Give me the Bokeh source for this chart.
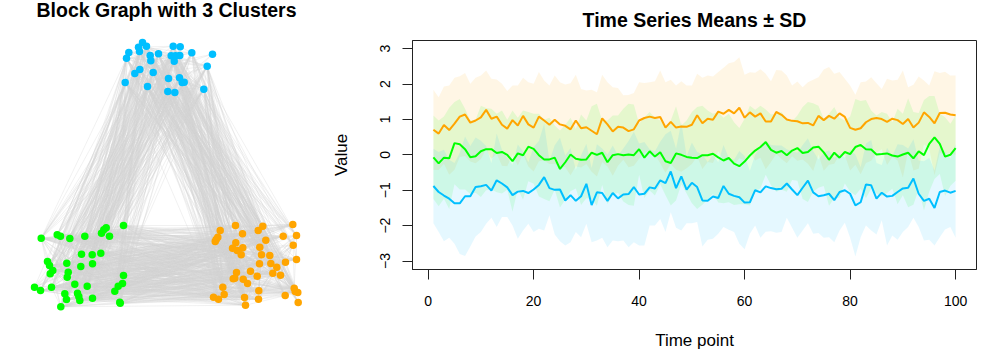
from bokeh.plotting import figure
from bokeh.layouts import row, column
from bokeh.models import Range1d, FixedTicker, Label
from bokeh.embed import file_html
from bokeh.resources import INLINE

time_points = list(range(1, 101))

orange_mean = [.71,.60,.84,.70,.88,1.08,1.14,.91,.97,1.06,1.27,1.02,1.08,.85,.74,.98,.83,1.10,.86,.77,
1.08,.97,.85,.99,.86,.82,.72,.97,.75,.78,.68,.58,1.03,.86,.66,.79,.77,.67,.72,.97,
1.04,1.08,1.04,1.07,.77,.93,.77,.80,.79,.85,1.12,.89,1.02,.99,1.22,1.16,1.27,1.17,1.33,1.05,
1.20,1.08,1.17,.94,.94,1.21,1.13,1.00,.96,.95,.89,.90,.83,1.10,.98,1.10,1.02,1.17,1.07,.76,
.71,.75,.92,1.01,1.04,1.01,.93,1.02,.98,.87,1.01,.77,.91,1.20,1.07,.89,1.18,1.19,1.14,1.12]
orange_upper = [1.84,1.63,1.93,1.96,2.18,2.22,2.31,2.01,2.18,2.24,2.38,2.15,2.13,2.01,1.80,1.96,1.96,2.18,2.05,2.01,
2.34,2.10,1.96,2.24,2.05,1.99,2.02,2.26,1.86,1.82,1.84,1.77,2.26,2.05,1.91,1.89,1.68,1.69,1.75,2.05,
2.03,2.05,2.08,2.38,2.05,2.12,1.96,2.08,1.96,1.96,2.29,2.18,2.24,2.21,2.34,2.46,2.59,2.62,2.76,2.26,
2.33,2.32,2.42,2.29,2.08,2.40,2.38,2.24,1.96,2.07,1.91,2.05,2.12,2.19,2.41,2.48,2.29,2.34,2.15,1.96,
1.70,2.05,2.07,2.19,2.02,1.86,2.15,2.10,2.12,2.38,1.91,1.98,2.21,2.10,1.96,2.36,2.31,2.35,2.24,2.24]
green_mean = [-.07,-.24,-.08,-.10,.33,.30,.16,-.07,-.04,.10,.16,.16,.05,.08,0,-.18,.04,-.01,.23,.17,
-.01,-.13,-.13,-.08,-.40,-.21,.01,-.11,-.14,-.13,.06,0,.06,-.21,-.01,.02,-.01,.01,-.01,.16,
-.08,.10,-.05,.07,-.18,-.23,.04,0,-.06,-.08,-.09,-.01,-.01,.03,-.07,-.16,-.09,-.25,-.32,-.19,
-.02,.12,.22,.36,.14,.06,.11,-.01,.12,.19,.05,.08,.21,.23,.07,-.14,.06,-.08,.08,.02,
.22,.28,.16,.15,.01,.02,.04,-.02,-.05,.01,.06,-.10,.10,-.01,.31,.49,.31,-.05,0,.19]
green_upper = [1.11,.97,1.08,1.33,1.49,1.58,1.30,.97,.99,1.39,1.32,1.30,1.16,1.25,.99,1.25,1.05,1.25,1.21,1.16,
1.16,.99,1.05,.83,.69,.85,1.05,.73,1.14,.97,1.37,1.44,.97,.97,1.11,1.11,1.30,1.44,1.42,.88,
1.06,1.21,1.05,.97,.78,.97,1.37,.83,.97,1.21,1.35,1.39,1.25,1.16,1.21,1.05,1.16,.92,.76,1.02,
1.39,1.27,1.39,1.28,1.14,1.16,1.21,1.02,.95,1.11,1.35,1.49,1.46,1.39,1.02,1.16,1.35,1.05,.97,1.08,
1.58,1.52,1.55,1.25,1.11,1.21,1.16,.92,1.30,1.16,1.60,1.21,1.18,1.55,1.66,1.66,1.16,1.06,.88,1.11]
blue_mean = [-.88,-1.05,-1.15,-1.24,-1.37,-1.37,-1.17,-1.17,-.91,-.89,-.85,-1.01,-.72,-.81,-.92,-1.14,-1.04,-1.02,-1.08,-.98,
-.85,-.63,-.94,-.99,-.98,-1.29,-1.14,-1.30,-1.17,-.82,-1.42,-1.06,-1.08,-1.30,-1.08,-1.23,-1.12,-1.11,-.91,-1.12,
-1.10,-.92,-.95,-.72,-.80,-.47,-.94,-.61,-.98,-.79,-.91,-1.29,-1.30,-1.18,-1.22,-.88,-1.10,-1.16,-1.20,-1.35,
-1.34,-1.00,-1.06,-.89,-.94,-.97,-.96,-.81,-.98,-1.14,-.93,-.73,-1.06,-1.17,-1.14,-1.10,-1.28,-1.05,-1.00,-1.10,
-1.43,-1.34,-.84,-.86,-1.24,-1.07,-1.18,-1.16,-1.05,-.95,-.93,-.67,-1.10,-1.30,-1.24,-1.50,-1.05,-1.01,-1.07,-1.02]
blue_lower = [-1.93,-2.18,-2.44,-2.34,-2.51,-2.80,-2.86,-2.59,-2.31,-2.18,-1.95,-1.78,-2.04,-1.76,-1.76,-2.00,-2.37,-2.14,-1.95,-2.18,
-2.09,-2.14,-1.71,-2.25,-2.44,-2.56,-2.47,-2.18,-2.33,-1.95,-2.47,-2.42,-2.34,-2.61,-2.42,-2.44,-2.42,-2.61,-2.47,-2.56,
-2.56,-2.00,-2.00,-1.81,-2.18,-1.62,-2.06,-2.14,-1.93,-1.93,-1.90,-2.59,-2.40,-2.37,-2.23,-2.04,-2.12,-2.18,-2.51,-2.67,
-2.23,-2.00,-2.34,-2.17,-2.16,-2.20,-2.18,-1.78,-2.06,-2.34,-2.14,-1.93,-2.23,-2.21,-2.34,-2.33,-2.47,-2.14,-1.92,-2.34,
-2.87,-2.33,-2.00,-2.14,-2.25,-1.85,-2.56,-2.28,-2.40,-2.18,-2.04,-1.78,-2.04,-2.42,-2.40,-2.56,-2.33,-2.11,-2.04,-2.34]

# Graph node layout
green_x = [123,105.7,103.3,101,109,84.3,69.3,60,56.7,40.7,81,91.7,100.3,66.3,92,80.3,47,49,52.3,49.7,67.7,66.7,123,74.3,86.7,122,117.7,114.3,34,40,51,64.3,66,77,78.3,79.3,92,119.3,119.7,60.3]
green_y = [225,227.3,229.3,232.7,235.7,235.7,238,235.7,234.3,237.7,253.7,254.3,252.7,262.7,263.3,266,261,265,270,273.3,271.7,276.7,275,283.7,285.7,283,285.7,290.7,286.7,290,286.7,293.3,299,292.7,296,300,297.7,301.7,302.7,306.3]
orange_x = [292.3,262.3,235,257.7,219.7,242,282.7,296,217.3,215.7,214.7,265.3,235.3,292.7,232,242.3,259.3,236.7,240.7,261,269.3,296,285,259,270.3,276.3,272.3,280,250,236,256.7,234.3,232.7,242.7,247,222.3,293.7,294.7,297.3,258.3,284.7,223.7,213,218,244,258,297.7,245]
orange_y = [224,225.7,225,230,230,233.3,235.7,235,236.7,239,241,239.7,242.3,244.7,247.7,247.3,246.7,250,254.3,254.3,255,259,261.7,263.3,263,266.7,272.7,274.7,270.7,272,275.7,277.7,278.3,278.7,283,286.7,287.7,291,292,290.3,295,294,296.7,298.7,297,298.7,302,304.7]
blue_x = [142,138,146,139,128.3,126,149.7,150.3,158,172.7,179.7,170.7,175,179.3,173.7,191.3,212,206.7,139.3,134.3,152.7,124.7,168,179,183.7,181.7,147,167.3,174.3,203.3]
blue_y = [42,46.7,45.7,51,52,57.7,55,60.3,53.3,45.7,46.3,55.3,55.3,55,60.7,52.3,53.7,65.7,69,73,72,82,78,77.3,81.7,82,86,91,92,88.7]

LEFT_W, RIGHT_W, H = 327, 669, 349
FONT = "Liberation Sans"
ORANGE, GREEN, BLUE = "#FFA500", "#00FF00", "#00BFFF"

# ---- left panel
g = figure(width=LEFT_W, height=H, output_backend="svg", toolbar_location=None,
           x_range=Range1d(0, LEFT_W), y_range=Range1d(H, 0), x_axis_type=None, y_axis_type=None,
           min_border_left=0, min_border_right=0, min_border_bottom=0, min_border_top=0,
           outline_line_color=None)
g.grid.visible = False

all_x = green_x + orange_x + blue_x
all_y = green_y + orange_y + blue_y
x0, y0, x1, y1 = [], [], [], []
for i in range(len(all_x)):
    for j in range(i + 1, len(all_x)):
        code = (i * 37 + j * 101 + i * j * 7) % 3
        if code == 0:
            x0.append(all_x[i]); y0.append(all_y[i]); x1.append(all_x[j]); y1.append(all_y[j])
g.segment(x0, y0, x1, y1, line_color="#D3D3D3", line_width=0.5, line_alpha=0.65)
g.scatter(green_x, green_y, size=7.5, color=GREEN, line_color=None)
g.scatter(orange_x, orange_y, size=7.5, color=ORANGE, line_color=None)
g.scatter(blue_x, blue_y, size=7.5, color=BLUE, line_color=None)
g.add_layout(Label(x=166, y=9, text="Block Graph with 3 Clusters", text_align="center",
                   text_baseline="middle", text_font=FONT, text_font_style="bold",
                   text_font_size="19.5px", text_color="black"))

# ---- right panel
p = figure(width=RIGHT_W, height=H + 3, output_backend="svg", toolbar_location=None,
           x_range=Range1d(-2.96, 103.96), y_range=Range1d(-3.24, 3.23),
           min_border_left=85, min_border_right=20, min_border_top=40, min_border_bottom=80,
           x_axis_label="Time point", y_axis_label="Value", title="Time Series Means ± SD")
p.grid.visible = False
p.outline_line_color = "#222222"
p.outline_line_width = 1
p.title.align = "center"
p.title.vertical_align = "top"
p.title.text_font = FONT
p.title.text_font_style = "bold"
p.title.text_font_size = "19.5px"
p.title.text_color = "black"
p.title.standoff = 16

p.xaxis.ticker = FixedTicker(ticks=[0, 20, 40, 60, 80, 100])
p.yaxis.ticker = FixedTicker(ticks=[-3, -2, -1, 0, 1, 2, 3])
for ax in (p.xaxis[0], p.yaxis[0]):
    ax.minor_tick_line_color = None
    ax.major_tick_in = 0
    ax.major_tick_out = 10
    ax.major_tick_line_color = "#222222"
    ax.axis_line_color = "#222222"
    ax.major_label_text_font = FONT
    ax.major_label_text_font_size = "14px"
    ax.major_label_text_color = "black"
    ax.axis_label_text_font = FONT
    ax.axis_label_text_font_size = "17px"
    ax.axis_label_text_font_style = "normal"
    ax.axis_label_text_color = "black"
p.yaxis[0].major_label_orientation = "vertical"
p.xaxis[0].major_label_standoff = 16
p.yaxis[0].major_label_standoff = 12
p.xaxis[0].axis_label_standoff = 22
p.yaxis[0].axis_label_standoff = 27

orange_lower = [2 * m - u for m, u in zip(orange_mean, orange_upper)]
green_lower = [2 * m - u for m, u in zip(green_mean, green_upper)]
blue_upper = [2 * m - l for m, l in zip(blue_mean, blue_lower)]

for lo, hi, c in ((orange_lower, orange_upper, ORANGE), (green_lower, green_upper, GREEN), (blue_lower, blue_upper, BLUE)):
    p.varea(x=time_points, y1=lo, y2=hi, fill_color=c, fill_alpha=0.1)
for m, c in ((orange_mean, ORANGE), (green_mean, GREEN), (blue_mean, BLUE)):
    p.line(time_points, m, line_color=c, line_width=2)

page = row(column(g), column(p), spacing=0)
open("out.html", "w").write(file_html(page, INLINE))
